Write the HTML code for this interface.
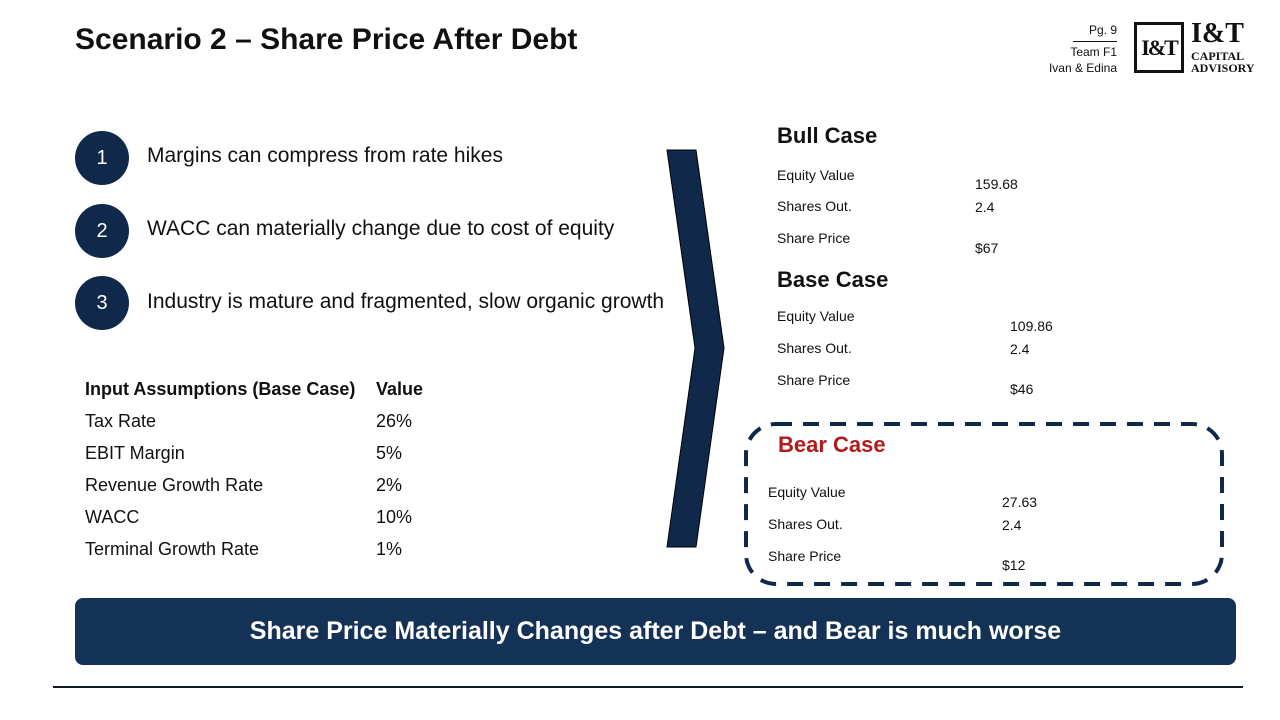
<!DOCTYPE html>
<html><head><meta charset="utf-8"><style>
*{margin:0;padding:0;box-sizing:border-box}
body{width:1280px;height:720px;background:#fff;position:relative;overflow:hidden;font-family:"Liberation Sans",sans-serif;color:#111}
.a{position:absolute;white-space:nowrap;line-height:1}
.c{position:absolute;width:54px;height:54px;border-radius:50%;background:#10294a;color:#fff;font-size:20px;display:flex;align-items:center;justify-content:center}
.s{font-size:14px}
</style></head><body>
<div class="a" style="left:75px;top:25px;font-size:30px;font-weight:bold">Scenario 2 – Share Price After Debt</div>

<div class="a" style="right:163px;top:24px;font-size:12px">Pg. 9</div>
<div style="position:absolute;left:1073px;top:41px;width:44px;height:1px;background:#111"></div>
<div class="a" style="right:163px;top:46px;font-size:12px">Team F1</div>
<div class="a" style="right:163px;top:62px;font-size:12px">Ivan &amp; Edina</div>
<div style="position:absolute;left:1134px;top:22px;width:50px;height:51px;border:3px solid #111;font-family:'Liberation Serif',serif;font-weight:bold;font-size:22px;letter-spacing:-2px;display:flex;align-items:center;justify-content:center">I&amp;T</div>
<div class="a" style="left:1191px;top:20px;font-family:'Liberation Serif',serif;font-weight:bold;font-size:28px">I&amp;T</div>
<div class="a" style="left:1191px;top:50px;font-family:'Liberation Serif',serif;font-weight:bold;font-size:12px;line-height:12px">CAPITAL<br>ADVISORY</div>

<div class="c" style="left:75px;top:131px">1</div>
<div class="c" style="left:75px;top:204px">2</div>
<div class="c" style="left:75px;top:276px">3</div>
<div class="a" style="left:147px;top:145px;font-size:21px">Margins can compress from rate hikes</div>
<div class="a" style="left:147px;top:218px;font-size:21px">WACC can materially change due to cost of equity</div>
<div class="a" style="left:147px;top:291px;font-size:21px">Industry is mature and fragmented, slow organic growth</div>

<div>
<div class="a" style="left:85px;top:380px;font-size:18px;font-weight:bold">Input Assumptions (Base Case)</div>
<div class="a" style="left:376px;top:380px;font-size:18px;font-weight:bold">Value</div>
<div class="a" style="left:85px;top:412px;font-size:18px">Tax Rate</div>
<div class="a" style="left:376px;top:412px;font-size:18px">26%</div>
<div class="a" style="left:85px;top:444px;font-size:18px">EBIT Margin</div>
<div class="a" style="left:376px;top:444px;font-size:18px">5%</div>
<div class="a" style="left:85px;top:476px;font-size:18px">Revenue Growth Rate</div>
<div class="a" style="left:376px;top:476px;font-size:18px">2%</div>
<div class="a" style="left:85px;top:508px;font-size:18px">WACC</div>
<div class="a" style="left:376px;top:508px;font-size:18px">10%</div>
<div class="a" style="left:85px;top:540px;font-size:18px">Terminal Growth Rate</div>
<div class="a" style="left:376px;top:540px;font-size:18px">1%</div>
</div>

<svg style="position:absolute;left:0;top:0" width="1280" height="720">
<polygon points="667,150 696,150 724,348 696,547 667,547 695,348" fill="#10294a" stroke="#000" stroke-width="1"/>
<rect x="746" y="424" width="476" height="160" rx="30" fill="none" stroke="#10294a" stroke-width="4" stroke-dasharray="16,11"/>
</svg>

<div class="a" style="left:777px;top:125px;font-size:22px;font-weight:bold">Bull Case</div>
<div class="a s" style="left:777px;top:168px">Equity Value</div>
<div class="a s" style="left:975px;top:177px">159.68</div>
<div class="a s" style="left:777px;top:199px">Shares Out.</div>
<div class="a s" style="left:975px;top:200px">2.4</div>
<div class="a s" style="left:777px;top:231px">Share Price</div>
<div class="a s" style="left:975px;top:241px">$67</div>

<div class="a" style="left:777px;top:269px;font-size:22px;font-weight:bold">Base Case</div>
<div class="a s" style="left:777px;top:309px">Equity Value</div>
<div class="a s" style="left:1010px;top:319px">109.86</div>
<div class="a s" style="left:777px;top:341px">Shares Out.</div>
<div class="a s" style="left:1010px;top:342px">2.4</div>
<div class="a s" style="left:777px;top:373px">Share Price</div>
<div class="a s" style="left:1010px;top:382px">$46</div>

<div class="a" style="left:778px;top:434px;font-size:22px;font-weight:bold;color:#b01c1c">Bear Case</div>
<div class="a s" style="left:768px;top:485px">Equity Value</div>
<div class="a s" style="left:1002px;top:495px">27.63</div>
<div class="a s" style="left:768px;top:517px">Shares Out.</div>
<div class="a s" style="left:1002px;top:518px">2.4</div>
<div class="a s" style="left:768px;top:549px">Share Price</div>
<div class="a s" style="left:1002px;top:558px">$12</div>

<div style="position:absolute;left:75px;top:598px;width:1161px;height:67px;border-radius:8px;background:#133256;color:#fff;font-size:25px;font-weight:bold;display:flex;align-items:center;justify-content:center">Share Price Materially Changes after Debt – and Bear is much worse</div>
<div style="position:absolute;left:53px;top:686px;width:1190px;height:2px;background:#111a24"></div>
</body></html>
